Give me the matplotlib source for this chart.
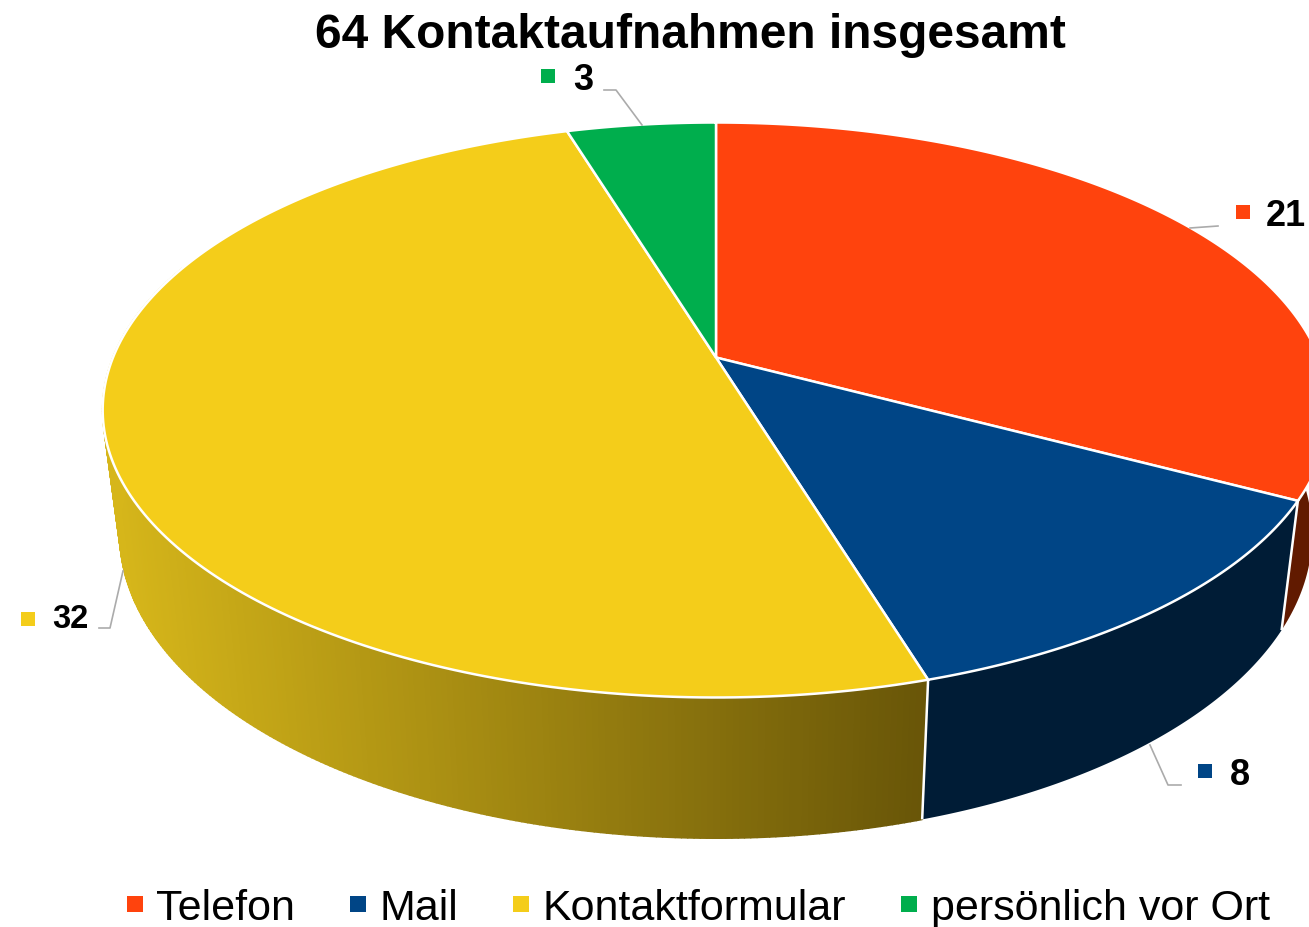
"""
Perspective 3D pie, drawn on a pixel-sized axes.
"""

import numpy as np
import matplotlib
matplotlib.use('Agg')
import matplotlib.pyplot as plt
from matplotlib.collections import PolyCollection
from matplotlib.colors import to_rgb
from matplotlib.lines import Line2D

TITLE = '64 Kontaktaufnahmen insgesamt'
categories = ['Telefon', 'Mail', 'Kontaktformular', 'persönlich vor Ort']
values = [21, 8, 32, 3]

COLORS = ['#FF430D', '#004586', '#F4CD1A', '#00AE4D']
WALLS = ['#611A00', '#001C36', None, None]
GOLD_LEFT = '#D6B61A'
GOLD_RIGHT = '#695608'

# label placement: text centre, swatch centre, leader line
LABEL_POS = [(1286, 216), (1240, 776), (70, 620), (583, 81)]
LABEL_SIZE = [26, 26, 23.5, 26]
SWATCH_POS = [(1243, 213), (1205, 772), (28, 620), (548, 77)]
LEADERS = [
    ([1190, 1218], [229, 227]),
    ([1150, 1168, 1181], [746, 786, 786]),
    ([123, 110, 99], [572, 629, 629]),
    ([642, 616, 604], [126, 91, 91]),
]

# projection of the unit circle
CX, CY = 716, 358.5
A, B, K = 603, 277.9, 0.1826
SHRINK, B_LOW, DROP = 0.972, 294, 121

plt.rcParams['font.family'] = ['Liberation Sans', 'DejaVu Sans']


def top_rim(theta):
    u, v = np.sin(theta), np.cos(theta)
    d = 1 + K * v
    return CX + A * u / d, CY - B * v / d


def low_rim(theta):
    u, v = np.sin(theta), np.cos(theta)
    d = 1 + K * v
    return CX + SHRINK * A * u / d, CY + DROP - B_LOW * v / d


def wall_outline(t0, t1):
    ts = np.linspace(t0, t1, 200)
    xt, yt = top_rim(ts)
    xb, yb = low_rim(ts)
    return np.r_[xt, xb[::-1]], np.r_[yt, yb[::-1]]


def wall_quads(t0, t1):
    ts = np.linspace(t0, t1, max(int(np.degrees(t1 - t0) * 2), 2))
    xt, yt = top_rim(ts)
    xb, yb = low_rim(ts)
    quads = [[(xt[i], yt[i]), (xt[i + 1], yt[i + 1]), (xb[i + 1], yb[i + 1]), (xb[i], yb[i])]
             for i in range(len(ts) - 1)]
    return quads


fig = plt.figure(figsize=(13.09, 9.28), dpi=100)
ax = fig.add_axes([0, 0, 1, 1])
ax.set_xlim(0, 1309)
ax.set_ylim(928, 0)
ax.axis('off')

edges = np.radians(np.concatenate([[0], np.cumsum(values)]) / sum(values) * 360)

# walls first, the top covers whatever is behind it
for i in [0, 1]:
    ax.fill(*wall_outline(edges[i], edges[i + 1]), color=WALLS[i], lw=0)

quads = wall_quads(edges[2], np.radians(290))
left, right = np.array(to_rgb(GOLD_LEFT)), np.array(to_rgb(GOLD_RIGHT))
shades = []
for q in quads:
    f = np.clip((np.mean([p[0] for p in q]) - 120) / 800, 0, 1)
    shades.append(left + (right - left) * f)
ax.add_collection(PolyCollection(quads, facecolors=shades, edgecolors=shades, linewidths=1.2))

# white seams between the walls
for e in edges[1:3]:
    xt, yt = top_rim(e)
    xb, yb = low_rim(e)
    ax.plot([xt, xb], [yt, yb], color='white', lw=1.8, solid_capstyle='butt')

# slices
for i, c in enumerate(COLORS):
    ts = np.linspace(edges[i], edges[i + 1], 200)
    xs, ys = top_rim(ts)
    ax.fill(np.r_[CX, xs], np.r_[CY, ys], facecolor=c, edgecolor='white', lw=1.8, joinstyle='miter')

# value labels
for i, val in enumerate(values):
    ax.plot(*LEADERS[i], color='#ABABAB', lw=1.2)
    ax.plot(*SWATCH_POS[i], marker='s', ms=10, mew=0, color=COLORS[i], ls='none')
    ax.text(*LABEL_POS[i], str(val), fontsize=LABEL_SIZE[i], fontweight='bold', ha='center', va='center')

ax.text(690, 35, TITLE, fontsize=34.5, fontweight='bold', ha='center', va='center')

handles = [Line2D([], [], marker='s', ms=12, mew=0, ls='none', color=c) for c in COLORS]
ax.legend(handles, categories, loc='center', bbox_to_anchor=(698, 909), bbox_transform=ax.transData,
          ncol=4, frameon=False, fontsize=31, handlelength=0.4, handletextpad=0.3,
          columnspacing=1.26, borderpad=0, borderaxespad=0)

fig.savefig('out.png', dpi=100)
